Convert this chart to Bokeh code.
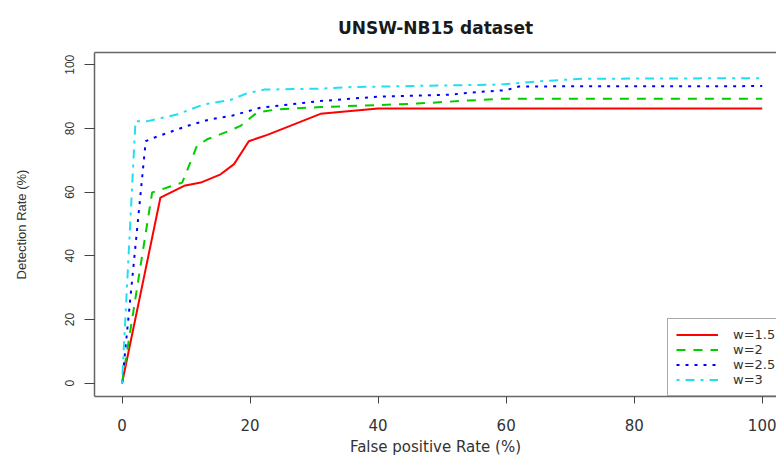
from bokeh.plotting import figure
from bokeh.models import Range1d, LinearAxis, FixedTicker, Legend, LegendItem
from bokeh.embed import file_html
from bokeh.resources import INLINE

# ---- data ----
x_ticks = [0, 20, 40, 60, 80, 100]
y_ticks = [0, 20, 40, 60, 80, 100]

series_labels = ["w=1.5", "w=2", "w=2.5", "w=3"]

fpr_w15 = [0, 6, 9.7, 12.3, 15.4, 17.5, 19.8, 22.7, 31, 40, 100]
dr_w15 = [0, 58.3, 62, 63, 65.6, 68.8, 76, 78, 84.6, 86.3, 86.3]

fpr_w2 = [0, 4.7, 9.4, 11.7, 13.3, 16.7, 18.5, 21.1, 24.2, 31, 46, 53.5, 59, 100]
dr_w2 = [0, 59.9, 63, 74.5, 76.6, 79.2, 80.8, 85, 86, 86.7, 87.8, 88.7, 89.3, 89.3]

fpr_w25 = [0, 3.7, 5, 10.2, 13.8, 17, 21.6, 31, 40, 51, 56.6, 60, 62, 100]
dr_w25 = [0, 76, 77.1, 80.8, 82.9, 83.9, 86.5, 88.6, 90, 90.6, 91.6, 92, 93.2, 93.3]

fpr_w3 = [0, 2.1, 4, 8.6, 12.7, 17, 19.6, 22.2, 31, 35.8, 59, 65, 72, 100]
dr_w3 = [0, 82.3, 82.3, 84.4, 87.5, 89, 91.1, 92.2, 92.5, 93, 93.8, 94.8, 95.6, 95.8]

colors = ["#FF0000", "#00CD00", "#0000FF", "#20E0F0"]
dashes = ["solid", "9 8", "3 6", "3 6 9 6"]

# ---- figure ----
p = figure(width=776, height=459, output_backend="svg", toolbar_location=None,
           x_range=Range1d(-4.30, 102.23), y_range=Range1d(-4.16, 103.85),
           min_border_left=94, min_border_right=0, min_border_top=51,
           min_border_bottom=63, title="UNSW-NB15 dataset",
           x_axis_label="False positive Rate (%)",
           y_axis_label="Detection Rate (%)")
p.outline_line_color = None
p.background_fill_color = "white"
p.border_fill_color = "white"
p.grid.visible = False

p.title.align = "center"
p.title.standoff = 30
p.title.offset = 8
p.title.text_font = "DejaVu Sans"
p.title.text_font_size = "17px"
p.title.text_font_style = "bold"
p.title.text_color = "#1a1a1a"

axis_col = "#666666"

xa = p.xaxis[0]
xa.ticker = FixedTicker(ticks=x_ticks)
xa.axis_line_color = axis_col
xa.axis_line_width = 1.5
xa.major_tick_line_color = "#444444"
xa.major_tick_out = 7
xa.major_tick_in = 0
xa.minor_tick_line_color = None
xa.major_label_standoff = 15
xa.major_label_text_font = "DejaVu Sans"
xa.major_label_text_font_size = "15px"
xa.major_label_text_color = "#333333"
xa.axis_label_standoff = 4
xa.axis_label_text_font = "DejaVu Sans"
xa.axis_label_text_font_size = "15px"
xa.axis_label_text_font_style = "normal"
xa.axis_label_text_color = "#333333"

ya = p.yaxis[0]
ya.ticker = FixedTicker(ticks=y_ticks)
ya.axis_line_color = axis_col
ya.axis_line_width = 1.5
ya.major_tick_line_color = "#444444"
ya.major_tick_out = 10
ya.major_tick_in = 0
ya.minor_tick_line_color = None
ya.major_label_orientation = "vertical"
ya.major_label_standoff = 10
ya.major_label_text_font = "Liberation Sans"
ya.major_label_text_font_size = "12px"
ya.major_label_text_color = "#333333"
ya.axis_label_standoff = 34
ya.axis_label_text_font = "Liberation Sans"
ya.axis_label_text_font_size = "13px"
ya.axis_label_text_font_style = "normal"
ya.axis_label_text_color = "#333333"

# top border of the box
top = LinearAxis(ticker=FixedTicker(ticks=[]), axis_line_color=axis_col,
                 axis_line_width=1.5, major_tick_line_color=None,
                 minor_tick_line_color=None, major_label_text_font_size="0px")
p.add_layout(top, "above")

xs = [fpr_w15, fpr_w2, fpr_w25, fpr_w3]
ys = [dr_w15, dr_w2, dr_w25, dr_w3]
items = []
for xv, yv, c, d, lab in zip(xs, ys, colors, dashes, series_labels):
    r = p.line(xv, yv, line_color=c, line_width=2, line_dash=d)
    items.append(LegendItem(label=lab, renderers=[r]))

legend = Legend(items=items, location=(573, 0), orientation="vertical",
                padding=8, margin=0, spacing=0, glyph_width=42, glyph_height=15,
                label_standoff=15, label_height=15,
                label_text_font="DejaVu Sans", label_text_font_size="13px",
                label_text_color="#333333",
                border_line_color="#555555", border_line_width=1.5,
                background_fill_color="white", background_fill_alpha=1.0)
p.add_layout(legend, "center")

open("out.html", "w").write(file_html(p, INLINE))
